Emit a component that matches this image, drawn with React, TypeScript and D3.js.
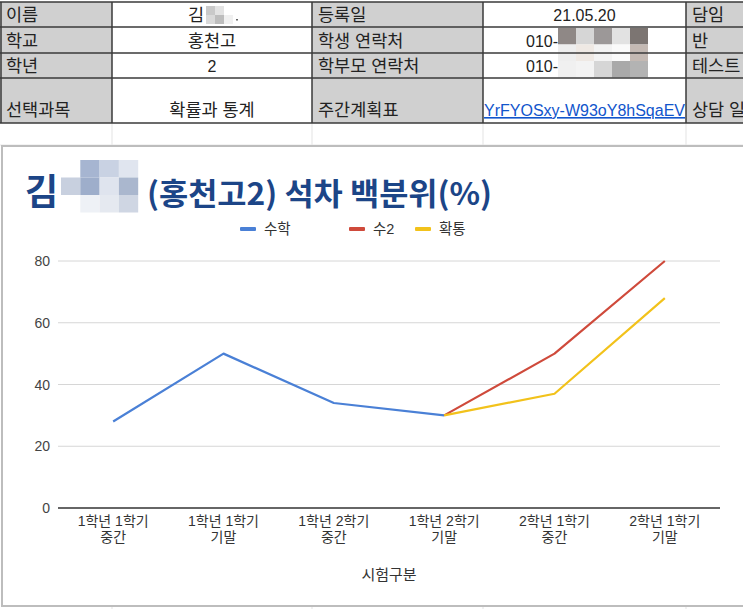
import React from "react";
import * as d3 from "d3";

// ---- data ----
const categories: string[][] = [
  ["1학년 1학기", "중간"],
  ["1학년 1학기", "기말"],
  ["1학년 2학기", "중간"],
  ["1학년 2학기", "기말"],
  ["2학년 1학기", "중간"],
  ["2학년 1학기", "기말"],
];
const mathValues: (number | null)[] = [28, 50, 34, 30, null, null];
const su2Values: (number | null)[] = [null, null, null, 30, 50, 80];
const probValues: (number | null)[] = [null, null, null, 30, 37, 68];
const yTicks = [0, 20, 40, 60, 80];
const seriesNames = ["수학", "수2", "확통"];
const seriesColors = ["#4a80d6", "#cf4a3b", "#f2c21b"];

const tableLabels1 = ["이름", "학교", "학년", "선택과목"];
const tableValues1 = ["김", "홍천고", "2", "확률과 통계"];
const tableLabels2 = ["등록일", "학생 연락처", "학부모 연락처", "주간계획표"];
const tableValues2 = ["21.05.20", "010-", "010-", "YrFYOSxy-W93oY8hSqaEV"];
const tableLabels3 = ["담임", "반", "테스트", "상담 일"];

const FONT = "'Liberation Sans', Arial, 'Noto Sans CJK KR', sans-serif";
const isKo = (s: string) => /[가-힣]/.test(s);

export default function App() {
  const W = 743, H = 609;
  const x = d3.scalePoint<number>().domain(categories.map((_, i) => i)).range([58, 720]).padding(0.5);
  const y = d3.scaleLinear().domain([0, 80]).range([508, 261]);
  const line = d3
    .line<number | null>()
    .defined((d) => d != null)
    .x((_, i) => x(i) as number)
    .y((d) => y(d as number));
  const series = [mathValues, su2Values, probValues];

  // table geometry
  const colX = [0, 112, 312, 483, 686, 760];
  const rowY = [2, 27, 53, 78, 123];
  const gray = "#d0d0d0";
  const border = "#3a3a3a";
  const fs = (s: string) => (isKo(s) ? 17.5 : 16);

  const cells: JSX.Element[] = [];
  for (let r = 0; r < 4; r++) {
    const y0 = rowY[r], y1 = rowY[r + 1];
    const base = r === 3 ? y1 - 7 : y1 - 6;
    const fills = [gray, "#fff", gray, "#fff", gray];
    for (let c = 0; c < 5; c++) {
      cells.push(
        <rect key={`f${r}${c}`} x={colX[c]} y={y0} width={colX[c + 1] - colX[c]} height={y1 - y0} fill={fills[c]} />
      );
    }
    cells.push(<text key={`l1${r}`} x={6} y={base} fontSize={fs(tableLabels1[r])} fill="#222">{tableLabels1[r]}</text>);
    cells.push(<text key={`l2${r}`} x={colX[2] + 6} y={base} fontSize={fs(tableLabels2[r])} fill="#222">{tableLabels2[r]}</text>);
    cells.push(<text key={`l3${r}`} x={colX[4] + 6} y={base} fontSize={fs(tableLabels3[r])} fill="#222">{tableLabels3[r]}</text>);
    if (r === 0) {
      cells.push(<text key={`v1${r}`} x={188} y={base} fontSize={fs(tableValues1[r])} fill="#222">{tableValues1[r]}</text>);
    } else {
      cells.push(<text key={`v1${r}`} x={(colX[1] + colX[2]) / 2} y={base} fontSize={fs(tableValues1[r])} fill="#222" textAnchor="middle">{tableValues1[r]}</text>);
    }
    if (r === 0) {
      cells.push(<text key={`v2${r}`} x={(colX[3] + colX[4]) / 2} y={base} fontSize={16} fill="#222" textAnchor="middle">{tableValues2[r]}</text>);
    } else if (r < 3) {
      cells.push(<text key={`v2${r}`} x={526} y={base} fontSize={16} fill="#222">{tableValues2[r]}</text>);
    } else {
      cells.push(
        <text key={`v2${r}`} x={colX[4] - 1} y={base} fontSize={16} fill="#1155cc" textAnchor="end" textDecoration="underline" clipPath="url(#linkClip)">{tableValues2[r]}</text>
      );
    }
  }

  const phoneMosaic = [
    ["#8f8886", "#d6d6d6", "#9c9898", "#e2e2e2", "#7c7572"],
    ["#eeeeee", "#efe9e4", "#f3f3f3", "#fafafa", "#c4b9b3"],
    ["#f0f0f0", "#f3f3f3", "#d6d6d6", "#a9a9a9", "#b3b3b3"],
  ];
  const nameMosaic = [
    ["#c9c9c9", "#e3e3e3", "#ffffff"],
    ["#d9d9d9", "#bdbdbd", "#f0f0f0"],
  ];
  const titleMosaic = [
    ["#ffffff", "#a6b5d1", "#c9d2e3", "#e0e5ef"],
    ["#c8d0df", "#9eaecb", "#dfe4ee", "#aab7ce"],
    ["#ffffff", "#eef1f6", "#e5e9f0", "#cfd6e3"],
  ];

  return (
    <svg width={W} height={H} style={{ position: "absolute", left: 0, top: 0, background: "#fff" }} fontFamily={FONT}>
      <defs>
        <clipPath id="linkClip">
          <rect x={colX[3] + 1} y={rowY[3]} width={colX[4] - colX[3] - 2} height={rowY[4] - rowY[3]} />
        </clipPath>
      </defs>
      <rect x={0} y={0} width={W} height={H} fill="#fff" />
      {/* faint sheet grid below table */}
      {colX.slice(1, 5).map((cx) => (
        <line key={`g${cx}`} x1={cx} x2={cx} y1={123} y2={H} stroke="#e3e3e3" strokeWidth={1} />
      ))}
      <line x1={0} x2={W} y1={145} y2={145} stroke="#e6e6e6" />
      {cells}
      {/* name mosaic */}
      {nameMosaic.map((row, ri) =>
        row.map((c, ci) => <rect key={`nm${ri}${ci}`} x={206 + ci * 9} y={6 + ri * 9} width={9} height={9} fill={c} />)
      )}
      <rect x={236} y={19} width={2} height={1.5} fill="#666" />
      {/* phone mosaic */}
      {phoneMosaic.map((row, ri) =>
        row.map((c, ci) => <rect key={`pm${ri}${ci}`} x={558 + ci * 18} y={28 + ri * 16.5} width={18} height={16.5} fill={c} />)
      )}
      {/* table borders */}
      {rowY.map((ry) => (
        <line key={`rb${ry}`} x1={0} x2={W} y1={ry} y2={ry} stroke={border} strokeWidth={1.5} />
      ))}
      {colX.slice(1, 5).map((cx) => (
        <line key={`cb${cx}`} x1={cx} x2={cx} y1={rowY[0]} y2={rowY[4]} stroke={border} strokeWidth={1.5} />
      ))}
      <line x1={1} x2={1} y1={rowY[0]} y2={rowY[4]} stroke={border} strokeWidth={1.5} />

      {/* chart area */}
      <rect x={2} y={146} width={W + 10} height={460} fill="#fff" stroke="#bdbdbd" strokeWidth={2} />
      {/* title */}
      <text x={25} y={205} fontSize={36} fontWeight={700} fill="#1c4587" fontFamily="'Noto Sans CJK KR', sans-serif">김</text>
      {titleMosaic.map((row, ri) =>
        row.map((c, ci) => <rect key={`tm${ri}${ci}`} x={61 + ci * 19.3} y={160 + ri * 17.5} width={19.3} height={17.5} fill={c} />)
      )}
      <text x={147} y={205} fontSize={31} fontWeight={700} fill="#1c4587" fontFamily="'Noto Sans CJK KR', sans-serif" textLength={345} lengthAdjust="spacingAndGlyphs">(홍천고2) 석차 백분위(%)</text>
      {/* legend */}
      {[240, 349, 415].map((lx, i) => (
        <g key={`lg${i}`}>
          <rect x={lx} y={227} width={16} height={4} rx={1} fill={seriesColors[i]} />
          <text x={lx + 24} y={234} fontSize={14.5} fill="#333">{seriesNames[i]}</text>
        </g>
      ))}
      {/* gridlines */}
      {yTicks.map((t) => (
        <g key={`yt${t}`}>
          {t !== 0 && <line x1={58} x2={720} y1={y(t)} y2={y(t)} stroke="#d6d6d6" strokeWidth={1} />}
          <text x={50} y={y(t) + 5} fontSize={14} fill="#444" textAnchor="end">{t}</text>
        </g>
      ))}
      <line x1={58} x2={720} y1={y(0)} y2={y(0)} stroke="#333" strokeWidth={1.5} />
      {/* x labels */}
      {categories.map((c, i) => (
        <text key={`xl${i}`} x={x(i)} y={526} fontSize={14} fill="#333" textAnchor="middle">
          <tspan x={x(i)} dy={0}>{c[0]}</tspan>
          <tspan x={x(i)} dy={15.5}>{c[1]}</tspan>
        </text>
      ))}
      <text x={389} y={580} fontSize={15} fill="#333" textAnchor="middle">시험구분</text>
      {/* lines */}
      {series.map((s, i) => (
        <path key={`ln${i}`} d={line(s) || ""} fill="none" stroke={seriesColors[i]} strokeWidth={2.2} strokeLinejoin="round" />
      ))}
    </svg>
  );
}
